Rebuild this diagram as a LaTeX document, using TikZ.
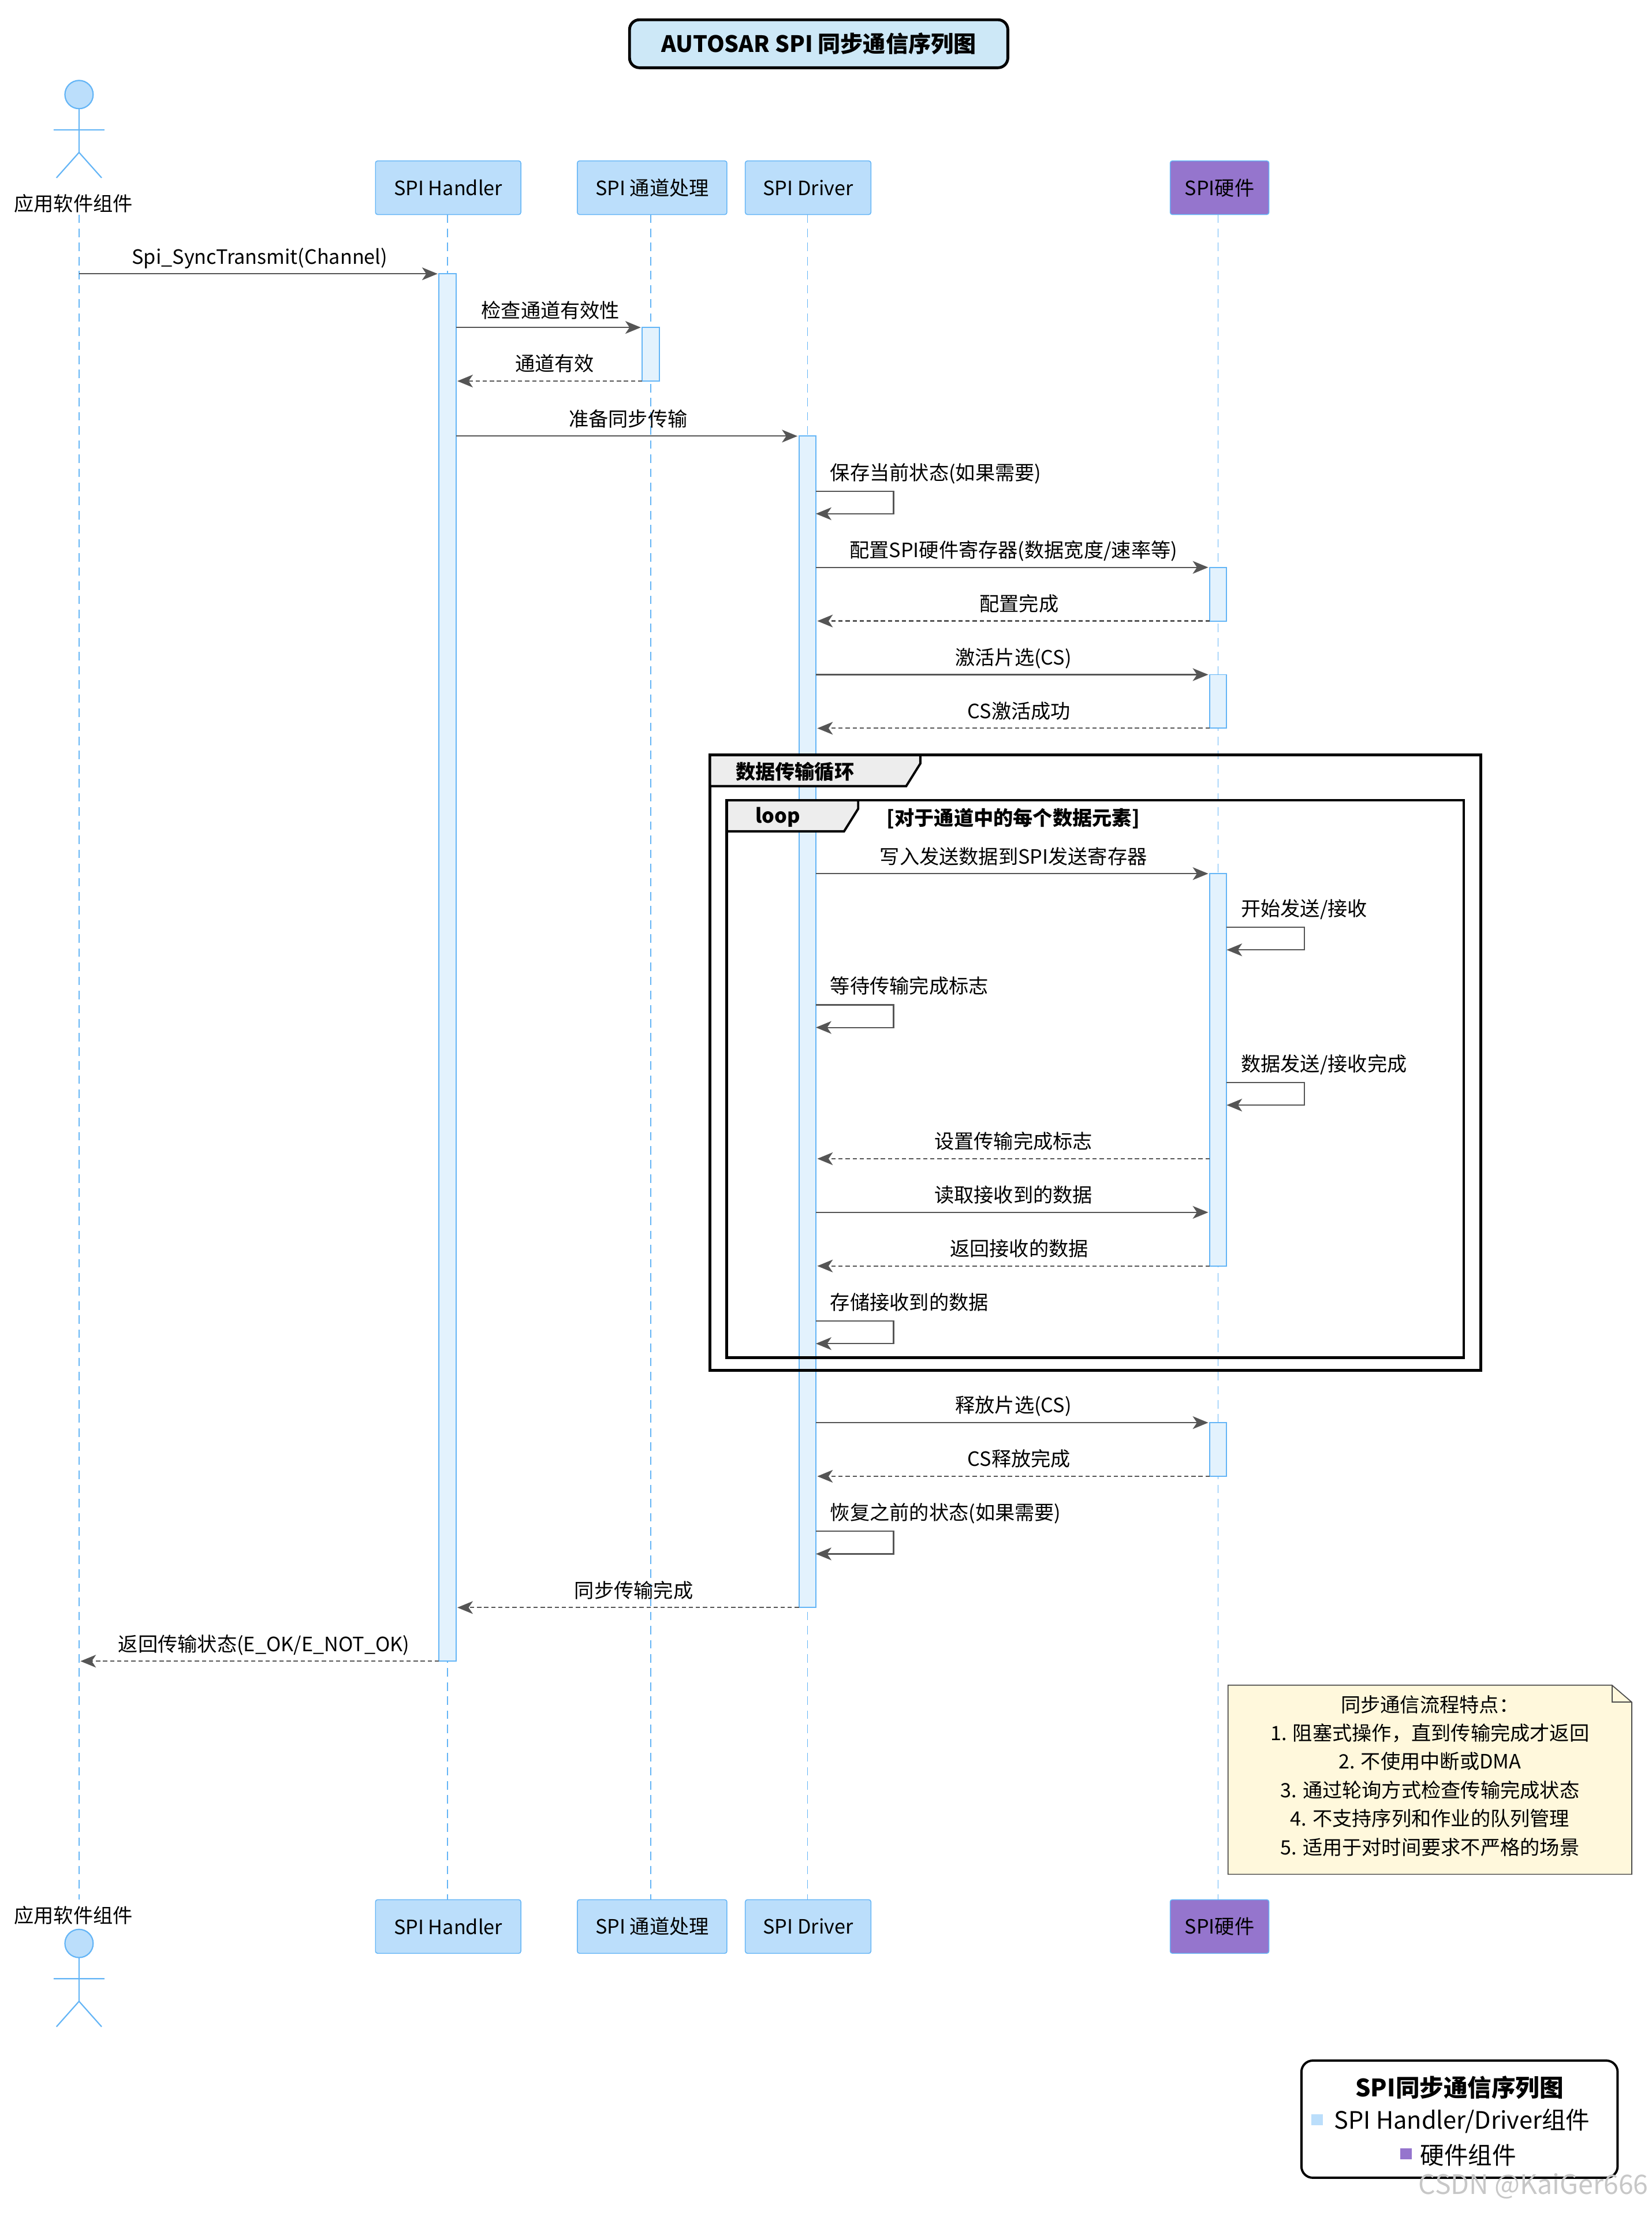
\documentclass[tikz,border=0pt]{standalone}
\usepackage{fontspec}
\setmainfont{Noto Sans CJK SC}
\usetikzlibrary{arrows.meta}
\definecolor{pblue}{HTML}{BBDEFB}
\definecolor{pbord}{HTML}{64B5F6}
\definecolor{actfill}{HTML}{E3F2FD}
\definecolor{hwfill}{HTML}{9575CD}
\definecolor{notefill}{HTML}{FFF8DC}
\definecolor{titlefill}{HTML}{CDE8F7}
\definecolor{arr}{HTML}{555555}
\tikzset{
  part/.style={draw=pbord,fill=pblue,rounded corners=1.5pt,minimum height=38pt,inner xsep=8pt,font=\fontsize{14}{16}\selectfont,line width=0.6pt},
  hwpart/.style={part,fill=hwfill},
  life/.style={draw=pbord,dashed,dash pattern=on 6pt off 4pt,line width=0.6pt},
  act/.style={draw=pbord,fill=actfill,line width=0.8pt},
  msg/.style={draw=arr,line width=0.9pt,-{Stealth[length=11pt,width=9pt,inset=3pt]}},
  ret/.style={msg,dash pattern=on 3pt off 2pt},
  lbl/.style={font=\fontsize{14}{16}\selectfont,inner sep=0pt},
  frm/.style={draw=black,line width=2pt},
  tab/.style={draw=black,line width=1.6pt,fill=black!7},
}
% #1 style, #2 name, #3 x1, #4 x2, #5 y, #6 label x, #7 label
\newcommand{\hmsg}[7]{%
  \coordinate (#2s) at (#3,#5); \coordinate (#2e) at (#4,#5);
  \draw[#1] (#2s) -- (#2e);
  \node[lbl,anchor=base] (#2l) at (#6,#5-7) {#7};}
% self message: #1 name, #2 x, #3 y (top), #4 label
\newcommand{\smsg}[4]{%
  \coordinate (#1s) at (#2,#3); \coordinate (#1a) at (#2+55,#3); \coordinate (#1b) at (#2+55,#3+16); \coordinate (#1e) at (#2,#3+16);
  \draw[msg] (#1s) -- (#1a) -- (#1b) -- (#1e);
  \node[lbl,anchor=base west] (#1l) at (#2+10,#3-8) {#4};}
\begin{document}
\begin{tikzpicture}[x=1pt,y=-1pt]
\useasboundingbox (0,0) rectangle (1170,1568);
% title
\node[draw=black,line width=2pt,fill=titlefill,rounded corners=7pt,minimum width=268pt,minimum height=34pt,font=\fontsize{16}{18}\selectfont\bfseries] (title) at (580,31) {AUTOSAR SPI 同步通信序列图};
% lifelines
\foreach \x in {56,317,461,572,863} \draw[life] (\x,152) -- (\x,1346);
% participants
\node[part,minimum width=103pt] (ht) at (317.5,133) {SPI Handler};
\node[part,minimum width=106pt] (ct) at (462,133) {SPI 通道处理};
\node[part,minimum width=89pt] (dt) at (572.5,133) {SPI Driver};
\node[hwpart,minimum width=70pt] (wt) at (864,133) {SPI硬件};
\node[part,minimum width=103pt] (hb) at (317.5,1365) {SPI Handler};
\node[part,minimum width=106pt] (cb) at (462,1365) {SPI 通道处理};
\node[part,minimum width=89pt] (db) at (572.5,1365) {SPI Driver};
\node[hwpart,minimum width=70pt] (wb) at (864,1365) {SPI硬件};
% actors
\begin{scope}[draw=pbord,line width=0.9pt]
\draw[fill=pblue] (56,67) circle (10);
\draw (56,77) -- (56,108) (38,92) -- (74,92) (56,108) -- (40,126) (56,108) -- (72,126);
\draw[fill=pblue] (56,1377) circle (10);
\draw (56,1387) -- (56,1418) (38,1402) -- (74,1402) (56,1418) -- (40,1436) (56,1418) -- (72,1436);
\end{scope}
\node[lbl] (at) at (52,144) {应用软件组件};
\node[lbl] (ab) at (52,1357) {应用软件组件};
% activations
\draw[act] (311,194) rectangle (323,1177);
\draw[act] (455,232) rectangle (467,270);
\draw[act] (566,309) rectangle (578,1139);
\draw[act] (857,402) rectangle (869,440);
\draw[act] (857,478) rectangle (869,516);
\draw[act] (857,619) rectangle (869,897);
\draw[act] (857,1008) rectangle (869,1046);
% frames
\draw[frm] (503,535) rectangle (1049,971);
\draw[tab] (503,535) -- (652,535) -- (652,541) -- (642,557) -- (503,557) -- cycle;
\node[lbl,font=\fontsize{14}{16}\selectfont\bfseries,anchor=west] (g1) at (521,547) {数据传输循环};
\draw[frm] (515,567) rectangle (1037,962);
\draw[tab] (515,567) -- (608,567) -- (608,573) -- (598,589) -- (515,589) -- cycle;
\node[lbl,font=\fontsize{14}{16}\selectfont\bfseries,anchor=west] (g2) at (535,579) {loop};
\node[lbl,font=\fontsize{14}{16}\selectfont\bfseries,anchor=west] (g3) at (628,580) {[对于通道中的每个数据元素]};
% messages
\hmsg{msg}{m1}{56}{310}{194}{184}{Spi\_SyncTransmit(Channel)}
\hmsg{msg}{m2}{323}{454}{232}{390}{检查通道有效性}
\hmsg{ret}{m3}{455}{324}{270}{393}{通道有效}
\hmsg{msg}{m4}{323}{565}{309}{445}{准备同步传输}
\smsg{m5}{578}{348}{保存当前状态(如果需要)}
\hmsg{msg}{m6}{578}{856}{402}{718}{配置SPI硬件寄存器(数据宽度/速率等)}
\hmsg{ret}{m7}{857}{579}{440}{722}{配置完成}
\hmsg{msg}{m8}{578}{856}{478}{718}{激活片选(CS)}
\hmsg{ret}{m9}{857}{579}{516}{722}{CS激活成功}
\hmsg{msg}{m10}{578}{856}{619}{718}{写入发送数据到SPI发送寄存器}
\smsg{m11}{869}{657}{开始发送/接收}
\smsg{m12}{578}{712}{等待传输完成标志}
\smsg{m13}{869}{767}{数据发送/接收完成}
\hmsg{ret}{m14}{857}{579}{821}{718}{设置传输完成标志}
\hmsg{msg}{m15}{578}{856}{859}{718}{读取接收到的数据}
\hmsg{ret}{m16}{857}{579}{897}{722}{返回接收的数据}
\smsg{m17}{578}{936}{存储接收到的数据}
\hmsg{msg}{m18}{578}{856}{1008}{718}{释放片选(CS)}
\hmsg{ret}{m19}{857}{579}{1046}{722}{CS释放完成}
\smsg{m20}{578}{1085}{恢复之前的状态(如果需要)}
\hmsg{ret}{m21}{566}{324}{1139}{449}{同步传输完成}
\hmsg{ret}{m22}{311}{57}{1177}{187}{返回传输状态(E\_OK/E\_NOT\_OK)}
% note
\draw[draw=black!70,fill=notefill,line width=0.7pt] (870,1194) -- (1142,1194) -- (1156,1206) -- (1156,1328) -- (870,1328) -- cycle;
\draw[draw=black!70,line width=0.7pt] (1142,1194) -- (1142,1206) -- (1156,1206);
\node[lbl,align=center,font=\fontsize{14}{20.2}\selectfont,anchor=north] (note) at (1013,1201) {同步通信流程特点：\\1. 阻塞式操作，直到传输完成才返回\\2. 不使用中断或DMA\\3. 通过轮询方式检查传输完成状态\\4. 不支持序列和作业的队列管理\\5. 适用于对时间要求不严格的场景};
% legend
\draw[draw=black,line width=1.6pt,fill=white,rounded corners=8pt] (922,1460) rectangle (1146,1543);
\node[lbl,font=\fontsize{17}{19}\selectfont\bfseries] (lt) at (1034,1479) {SPI同步通信序列图};
\fill[pblue] (929,1498) rectangle (937,1506);
\node[lbl,font=\fontsize{17}{19}\selectfont,anchor=west] (l1) at (945,1503) {SPI Handler/Driver组件};
\fill[hwfill] (992,1522) rectangle (1000,1530);
\node[lbl,font=\fontsize{17}{19}\selectfont,anchor=west] (l2) at (1006,1527) {硬件组件};
% watermark
\node[lbl,font=\fontsize{19}{21}\selectfont,text=black!22,anchor=east] (wm) at (1168,1549) {CSDN @KaiGer666};
\end{tikzpicture}
\end{document}
